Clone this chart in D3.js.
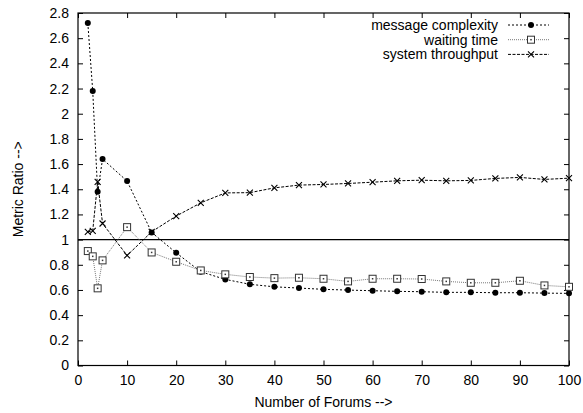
<!DOCTYPE html>
<html>
<head>
  <script src="https://cdn.jsdelivr.net/npm/d3@7"></script>
  <style>
    body { margin: 0; background: #fff; }
    svg text { font-family: "Liberation Sans", Arial, sans-serif; font-size: 14px; fill: #000; }
  </style>
</head>
<body>
  <svg id="chart" width="583" height="413"></svg>
  <script>
    // number of forums on the x axis
    const forums = [2, 3, 4, 5, 10, 15, 20, 25, 30, 35, 40, 45, 50, 55, 60, 65, 70, 75, 80, 85, 90, 95, 100];

    const messageComplexity = [2.72, 2.18, 1.38, 1.64, 1.465, 1.057, 0.895, 0.745, 0.684, 0.645, 0.625, 0.615,
      0.605, 0.599, 0.594, 0.589, 0.586, 0.581, 0.581, 0.578, 0.578, 0.575, 0.573];
    const waitingTime = [0.909, 0.867, 0.613, 0.835, 1.099, 0.898, 0.824, 0.755, 0.724, 0.703, 0.694, 0.697,
      0.689, 0.668, 0.689, 0.689, 0.687, 0.668, 0.657, 0.657, 0.673, 0.636, 0.625];
    const systemThroughput = [1.062, 1.07, 1.459, 1.128, 0.874, 1.062, 1.187, 1.292, 1.371, 1.373, 1.411, 1.433,
      1.438, 1.446, 1.456, 1.467, 1.472, 1.467, 1.47, 1.486, 1.494, 1.478, 1.488];

    const xTicks = [0, 10, 20, 30, 40, 50, 60, 70, 80, 90, 100];
    const yTicks = [0, 0.2, 0.4, 0.6, 0.8, 1, 1.2, 1.4, 1.6, 1.8, 2, 2.2, 2.4, 2.6, 2.8];

    const series = [
      { name: "message complexity", values: messageComplexity, marker: "circle", stroke: "#000", dash: "2,2" },
      { name: "waiting time", values: waitingTime, marker: "square", stroke: "#777", dash: "1,1" },
      { name: "system throughput", values: systemThroughput, marker: "cross", stroke: "#000", dash: "3,1.5" }
    ];

    var margin = { top: 13, right: 14, bottom: 47.5, left: 78 },
      width = 583 - margin.left - margin.right,
      height = 413 - margin.top - margin.bottom;

    var svg = d3.select("#chart")
      .append("g")
      .attr("transform", "translate(" + margin.left + "," + margin.top + ")");

    var x = d3.scaleLinear().domain([0, 100]).range([0, width]);
    var y = d3.scaleLinear().domain([0, 2.8]).range([height, 0]);

    // axes with inward ticks, mirrored on top and right like gnuplot
    var tick = 5;
    svg.append("g")
      .attr("transform", "translate(0," + height + ")")
      .call(d3.axisBottom(x).tickValues(xTicks).tickSizeInner(-tick).tickSizeOuter(0).tickPadding(10));
    svg.append("g")
      .call(d3.axisTop(x).tickValues(xTicks).tickSizeInner(-tick).tickSizeOuter(0).tickFormat(""));
    svg.append("g")
      .call(d3.axisLeft(y).tickValues(yTicks).tickSizeInner(-tick).tickSizeOuter(0).tickPadding(9)
        .tickFormat(d3.format("~g")));
    svg.append("g")
      .attr("transform", "translate(" + width + ",0)")
      .call(d3.axisRight(y).tickValues(yTicks).tickSizeInner(-tick).tickSizeOuter(0).tickFormat(""));

    svg.selectAll(".domain").remove();
    svg.selectAll(".tick line").attr("stroke", "#000");
    svg.selectAll(".tick text").style("font-size", "14px")
      .style("font-family", "'Liberation Sans', Arial, sans-serif");

    svg.append("rect")
      .attr("width", width).attr("height", height)
      .attr("fill", "none").attr("stroke", "#000").attr("stroke-width", 1.2);

    // reference line at ratio 1
    svg.append("line")
      .attr("x1", 0).attr("x2", width)
      .attr("y1", y(1)).attr("y2", y(1))
      .attr("stroke", "#000").attr("stroke-width", 1.2);

    function drawMarker(g, type, cx, cy) {
      if (type == "circle") {
        g.append("circle").attr("cx", cx).attr("cy", cy).attr("r", 3).attr("fill", "#000");
      } else if (type == "square") {
        g.append("rect").attr("x", cx - 3.5).attr("y", cy - 3.5).attr("width", 7).attr("height", 7)
          .attr("fill", "#fff").attr("stroke", "#333").attr("stroke-width", 1);
        g.append("rect").attr("x", cx - 0.75).attr("y", cy - 0.75).attr("width", 1.5).attr("height", 1.5)
          .attr("fill", "#333");
      } else {
        g.append("path")
          .attr("d", "M" + (cx - 3) + "," + (cy - 3) + "L" + (cx + 3) + "," + (cy + 3) +
            "M" + (cx - 3) + "," + (cy + 3) + "L" + (cx + 3) + "," + (cy - 3))
          .attr("stroke", "#000").attr("stroke-width", 1.1);
      }
    }

    var line = d3.line()
      .x(function (d) { return x(d.f); })
      .y(function (d) { return y(d.v); });

    series.forEach(function (s) {
      var pts = forums.map(function (f, i) { return { f: f, v: s.values[i] }; });
      svg.append("path")
        .datum(pts)
        .attr("fill", "none")
        .attr("stroke", s.stroke)
        .attr("stroke-width", 1)
        .attr("stroke-dasharray", s.dash)
        .attr("d", line);
      var mg = svg.append("g");
      pts.forEach(function (p) { drawMarker(mg, s.marker, x(p.f), y(p.v)); });
    });

    // legend
    var legend = svg.append("g");
    series.forEach(function (s, i) {
      var ly = 12 + i * 14.7;
      legend.append("text")
        .attr("x", 420).attr("y", ly + 5)
        .attr("text-anchor", "end")
        .text(s.name);
      legend.append("line")
        .attr("x1", 430).attr("x2", 471)
        .attr("y1", ly).attr("y2", ly)
        .attr("stroke", s.stroke).attr("stroke-width", 1)
        .attr("stroke-dasharray", s.dash);
      drawMarker(legend, s.marker, 453, ly);
    });

    // axis titles
    d3.select("#chart").append("text")
      .attr("x", margin.left + width / 2).attr("y", 406.5)
      .attr("text-anchor", "middle")
      .text("Number of Forums -->");
    d3.select("#chart").append("text")
      .attr("transform", "translate(23," + (margin.top + height / 2) + ")rotate(-90)")
      .attr("text-anchor", "middle")
      .text("Metric Ratio -->");
  </script>
</body>
</html>
